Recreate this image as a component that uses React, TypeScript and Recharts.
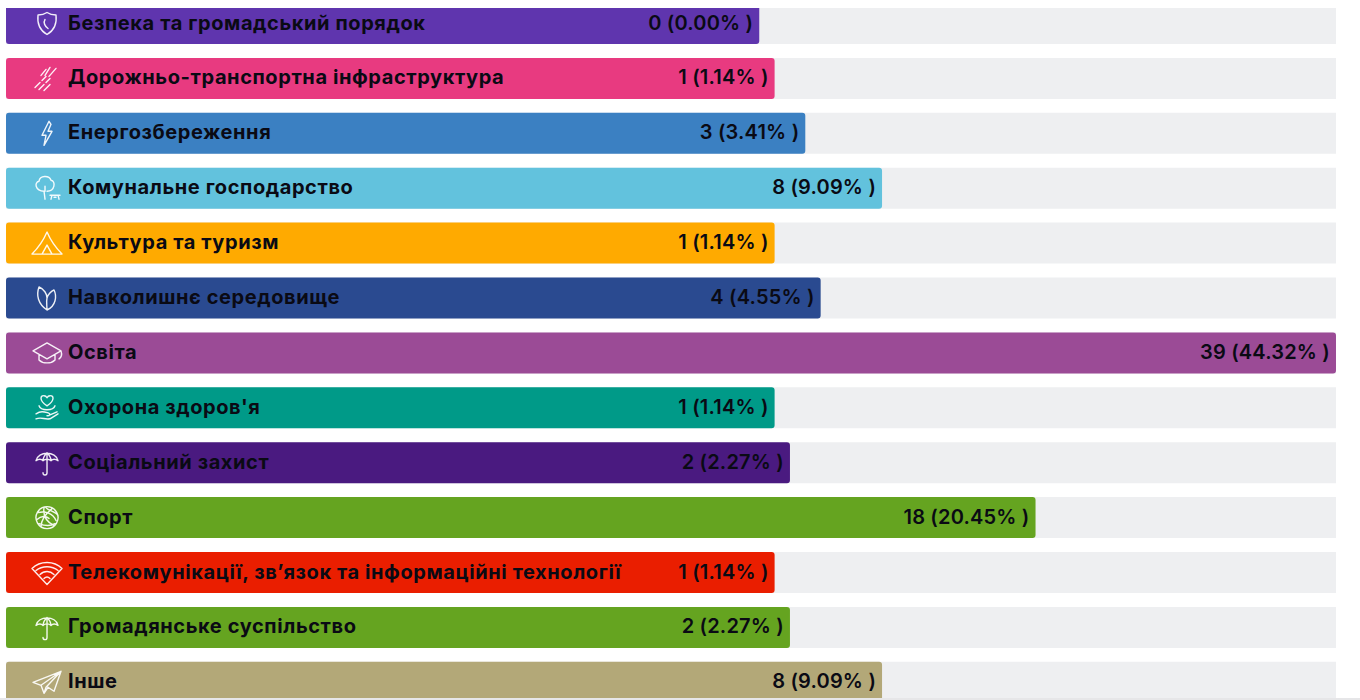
import { BarChart, Bar, XAxis, YAxis, Cell, LabelList } from 'recharts';

const categories = [
  'Безпека та громадський порядок',
  'Дорожньо-транспортна інфраструктура',
  'Енергозбереження',
  'Комунальне господарство',
  'Культура та туризм',
  'Навколишнє середовище',
  'Освіта',
  "Охорона здоров'я",
  'Соціальний захист',
  'Спорт',
  'Телекомунікації, зв’язок та інформаційні технології',
  'Громадянське суспільство',
  'Інше',
];
const counts = [0, 1, 3, 8, 1, 4, 39, 1, 2, 18, 1, 2, 8];
const percents = ['0.00', '1.14', '3.41', '9.09', '1.14', '4.55', '44.32', '1.14', '2.27', '20.45', '1.14', '2.27', '9.09'];
const colors = ['#5f35ae', '#e83a80', '#3b80c2', '#62c2dd', '#ffaa00', '#2a4a90', '#9b4b96', '#009a88', '#4a1a80', '#65a420', '#ea1e00', '#65a420', '#b3a878'];

// the track is wider than the zero point: bars start left of 0 and the longest one stops at the edge
const AXIS_MIN = -49.075;
const AXIS_MAX = 37.575;

const rows = categories.map((name, i) => ({
  name,
  count: counts[i],
  share: `${counts[i]} (${percents[i]}% )`,
}));

const UMBRELLA = 'M-11-2 C-9-12 9-12 11-2 C8-4 6-4 4-2 C2-4-2-4-4-2 C-6-4-8-4-11-2Z M0-10 C-3-7-4-5-4-2 M0-10 C3-7 4-5 4-2 M0-10 L0 10 C0 13-4 13-4 10';

const ICONS: string[] = [
  'M0-11 C3-9 6-8.5 9-8.5 C10 0 7 7 0 11 C-7 7-10 0-9-8.5 C-6-8.5-3-9 0-11Z M-2-4 C-4-1-2 3 1 5',
  'M-12 9 L-7 4 M-5 2 L-1-2 M-8 11 L-3 6 M-1 4 L3 0 M-3 12 L3 6 M-6-3 L-1-9 M-2-3 L3-11 M2-2 L9-10',
  'M2-12 L-5 2 L-1 2 L-3 12 L5-2 L1-2 L4-9Z',
  'M-3 3 C-12 3-13-6-8-7 C-7-13 2-13 4-8 C9-7 8 3 0 3 M-3 3 L-2 11 M-2 3 L-2-2 M3 7 L13 7 M5 7 L4 11 M11 7 L12 11 M7 9 L9 9',
  'M0-11 C-3-4-9 5-15 11 L15 11 C9 5 3-4 0-11Z M-5 11 L0 2 L5 11',
  'M-8-11 C-11-3-9 6 0 12 C9 8 10-2 7-8 C3-6 1-3 0 0 C0-4-3-9-8-11Z M0 0 C-1 4 0 8 0 12',
  'M0-10 L14-2 L0 6 L-14-2Z M-8 2 L-8 7 C-4 11 4 11 8 7 L8 2 M14-2 C15 1 15 4 12 6',
  'M0-2 C-9-8-6-13-3-12 C-1-12 0-10 0-10 C0-10 1-12 3-12 C6-13 9-8 0-2Z M-11 6 C-6 3-3 4 1 5 C4 6 3 8 0 8 M3 7 L10 4 M-11 11 C-5 9-3 12 3 11 L11 6 M-8-2 C-7 1-4 2 0 2 C4 2 7 1 8-2',
  UMBRELLA,
  'M0-11 A11 11 0 1 0 0.01-11Z M-9-5 C-2-7 6-4 9 3 M-3-10 C-4-3-1 4 7 8 M5-9 C-1-4-6 3-6 9 M-10 2 C-6-2-1-2 2 1 M-1-10 C1-7 9-6 11-2 M-8 6 C-3 8 3 9 8 6',
  'M-15-4 C-7-12 7-12 15-4 L0 12Z M-11-2 C-5-7 5-7 11-2 M-7 2 C-3-2 3-2 7 2 M-3 6 C-1 4 1 4 3 6',
  UMBRELLA,
  'M14-11 L-14 0 L-6 3 Z M14-11 L-6 3 L-3 11 L1 5 L7 9 Z M-3 11 L-1 5 L14-11',
];

function CategoryIcon(props: any) {
  const { y, height, index } = props;
  return (
    <path
      d={ICONS[index]}
      transform={`translate(47 ${y + height / 2})`}
      fill="none"
      stroke="#ffffff"
      strokeWidth={1.4}
      strokeLinejoin="round"
      strokeLinecap="round"
      opacity={0.92}
    />
  );
}

const labelFont = { fontFamily: 'Inter, "Open Sans", sans-serif', fontSize: 20, fontWeight: 600, fill: '#0a0a14', dy: -1 };

export default function App() {
  return (
    <div style={{ position: 'absolute', left: 0, top: 0, width: 1360, height: 700, overflow: 'hidden', background: '#fff' }}>
      <div style={{ position: 'absolute', left: 0, top: 8, width: 1360, height: 690, overflow: 'hidden' }}>
        <div style={{ position: 'absolute', left: 0, top: -12.35 }}>
          <BarChart
            layout="vertical"
            width={1360}
            height={713.7}
            data={rows}
            barSize={41}
            margin={{ top: 0, right: 24, bottom: 0, left: 6 }}
          >
            <XAxis type="number" hide domain={[AXIS_MIN, AXIS_MAX]} />
            <YAxis type="category" hide dataKey="name" />
            <Bar
              dataKey={(d: any) => [AXIS_MIN, Math.min(d.count, AXIS_MAX)]}
              radius={3}
              background={{ fill: '#eeeff1' }}
              isAnimationActive={false}
            >
              {rows.map((r, i) => (
                <Cell key={r.name} fill={colors[i]} />
              ))}
              <LabelList dataKey="name" content={CategoryIcon} />
              <LabelList dataKey="name" position="insideLeft" offset={62} letterSpacing={0.6} {...labelFont} fontWeight={700} />
              <LabelList dataKey="share" position="insideRight" offset={6} letterSpacing={0.2} {...labelFont} />
            </Bar>
          </BarChart>
        </div>
      </div>
      <div style={{ position: 'absolute', left: 0, top: 698, width: 1360, height: 2, background: '#e6e6e8' }} />
    </div>
  );
}
